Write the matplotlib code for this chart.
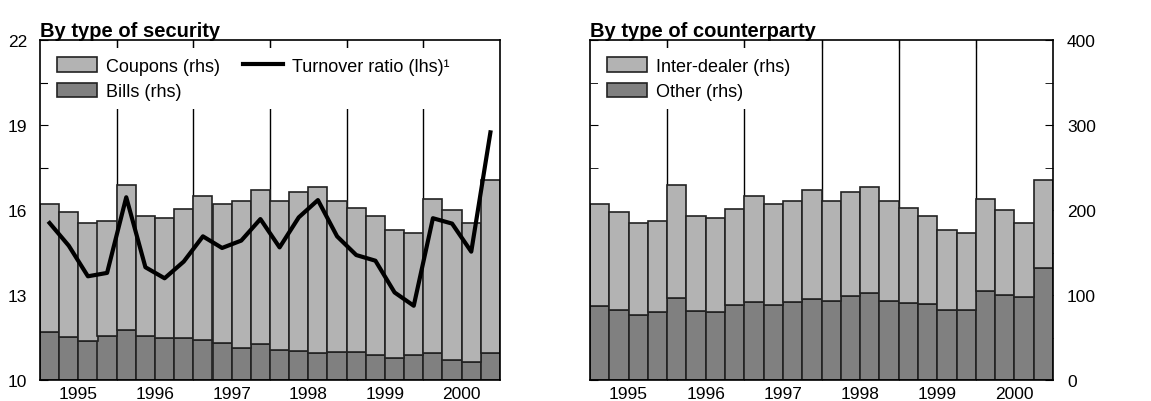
import matplotlib
matplotlib.use('Agg')
import matplotlib.pyplot as plt
from matplotlib.ticker import MultipleLocator, FixedLocator, NullFormatter, FixedFormatter
import numpy as np

plt.rcParams['font.family'] = ['Liberation Sans', 'DejaVu Sans']
plt.rcParams['font.size'] = 12.5

years = ['1995', '1996', '1997', '1998', '1999', '2000']
lhs_ticks = [10, 13, 16, 19, 22]

# quarterly, 1995 Q1 .. 2000 Q4
bills = [57, 51, 45.5, 52, 59, 52, 49, 49, 47.5, 44, 38, 42,
         35, 34, 32, 32.5, 33, 30, 26, 30, 31.5, 24, 21.5, 32]
coupons = [150, 147, 139.5, 135, 170, 141, 141, 152, 168.5, 163, 173, 181,
           176, 187, 195, 178.5, 169, 163, 151, 143, 181.5, 176, 163.5, 203]
turnover = [15.54, 14.74, 13.66, 13.78, 16.45, 13.98, 13.59, 14.18, 15.07, 14.66, 14.92, 15.68,
            14.68, 15.74, 16.35, 15.07, 14.41, 14.21, 13.09, 12.62, 15.71, 15.52, 14.53, 18.74]
other = [87, 82, 76.5, 80.5, 96, 81, 79.5, 88, 92, 88, 91.5, 95,
         92.5, 99, 102.5, 93.5, 91, 89.5, 82.5, 82.5, 105, 100.5, 97.5, 132]
inter_dealer = [120, 116, 108.5, 106.5, 133, 112, 110.5, 113, 124, 119, 119.5, 128,
                118.5, 122, 124.5, 117.5, 111, 103.5, 94.5, 90.5, 108, 99.5, 87.5, 103]

LIGHT = '#b3b3b3'
DARK = '#808080'
EDGE = '#222222'

fig = plt.figure(figsize=(11.51, 4.02), dpi=100)
ax1 = fig.add_axes([40/1151, 1-381/402, 460/1151, 340/402])
ax2 = fig.add_axes([590/1151, 1-381/402, 463/1151, 340/402])

x = np.arange(len(bills))
leg_kw = dict(loc='upper left', frameon=True, facecolor='white', edgecolor='none', framealpha=1,
              fontsize=13, handlelength=2.2, handleheight=0.85, labelspacing=0.45,
              borderaxespad=0.45, borderpad=0.5, handletextpad=0.5, columnspacing=1.3)


def setup(ax):
    ax.set_xlim(-0.5, len(x) - 0.5)
    ax.set_ylim(0, 400)
    ax.set_axisbelow(True)
    # year boundaries -> grid lines, year labels in between
    ax.xaxis.set_major_locator(FixedLocator(np.arange(3.5, len(x) - 1, 4)))
    ax.xaxis.set_major_formatter(NullFormatter())
    ax.xaxis.set_minor_locator(FixedLocator(np.arange(1.5, len(x), 4)))
    ax.xaxis.set_minor_formatter(FixedFormatter(years))
    ax.tick_params(axis='x', which='major', direction='in', length=6, top=True, bottom=True)
    ax.tick_params(axis='x', which='minor', length=0, pad=4)
    ax.grid(axis='x', which='major', color='black', linewidth=1)
    ax.yaxis.set_major_locator(MultipleLocator(50))
    ax.tick_params(axis='y', which='both', direction='in', length=6, left=True, right=True,
                   labelleft=False, labelright=False)
    for s in ax.spines.values():
        s.set_linewidth(1.2)


# ---- left panel: by type of security
setup(ax1)
b1 = ax1.bar(x, bills, width=1.0, color=DARK, edgecolor=EDGE, linewidth=1.2, label='Bills (rhs)')
c1 = ax1.bar(x, coupons, width=1.0, bottom=bills, color=LIGHT, edgecolor=EDGE, linewidth=1.2,
             label='Coupons (rhs)')

axl = ax1.twinx()
axl.set_ylim(10, 22)
axl.yaxis.tick_left()
axl.yaxis.set_major_locator(FixedLocator(lhs_ticks))
axl.tick_params(axis='y', which='major', length=0, pad=9)
axl.tick_params(axis='x', length=0)
for s in axl.spines.values():
    s.set_visible(False)
line, = axl.plot(x, turnover, color='black', linewidth=3, label='Turnover ratio (lhs)\u00b9')
axl.legend(handles=[c1, b1, line], ncol=2, **leg_kw)
ax1.set_title('By type of security', loc='left', fontsize=14.5, fontweight='bold', pad=3)

# ---- right panel: by type of counterparty
setup(ax2)
o2 = ax2.bar(x, other, width=1.0, color=DARK, edgecolor=EDGE, linewidth=1.2, label='Other (rhs)')
i2 = ax2.bar(x, inter_dealer, width=1.0, bottom=other, color=LIGHT, edgecolor=EDGE, linewidth=1.2,
             label='Inter-dealer (rhs)')
ax2.legend(handles=[i2, o2], **leg_kw)
ax2.yaxis.set_major_locator(MultipleLocator(100))
ax2.yaxis.set_minor_locator(MultipleLocator(50))
ax2.tick_params(axis='y', which='both', direction='in', length=6, left=True, right=True,
                labelright=True, labelleft=False, pad=10)
ax2.set_title('By type of counterparty', loc='left', fontsize=14.5, fontweight='bold', pad=3)

fig.savefig('out.png', dpi=100)
